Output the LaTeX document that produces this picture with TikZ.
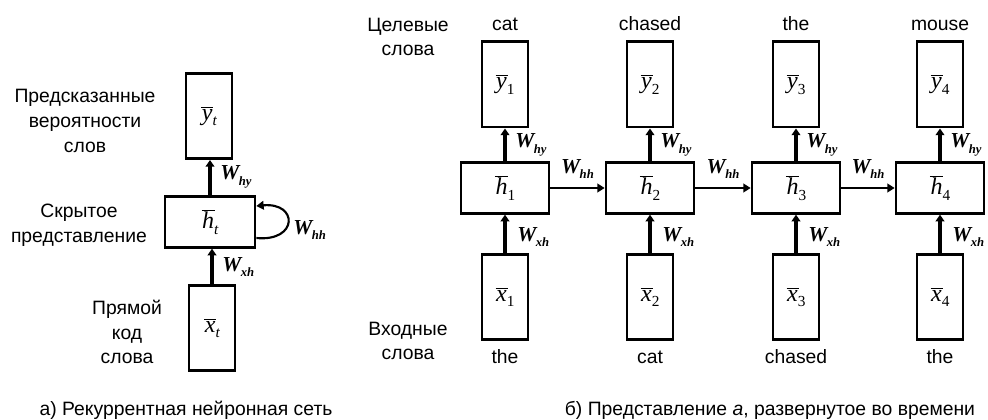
\documentclass[tikz,border=0pt]{standalone}
\usepackage{fontspec}
\setmainfont{Liberation Sans}
\newfontfamily\tms{Liberation Serif}
\usetikzlibrary{arrows.meta,calc}
\newcommand\Wl[1]{{\tms\bfseries\itshape W\kern-0.3pt\raisebox{-0.55ex}{\fontsize{9.5}{9.5}\selectfont #1}}}
\newcommand\bv[2]{{\tms\itshape $\overline{\mbox{\tms\itshape\kern0.5pt #1\kern0.5pt}}$\kern-0.5pt\raisebox{-0.5ex}{\fontsize{11.5}{11.5}\selectfont #2}}}
\begin{document}
\begin{tikzpicture}[x=0.75pt,y=-0.75pt,
  box/.style={draw,line width=2pt,inner sep=0pt},
  tall/.style={box,minimum width=34.5pt,minimum height=64pt},
  wide/.style={box,minimum width=66pt,minimum height=38pt},
  varr/.style={line width=3pt,-{Triangle[width=6.5pt,length=5pt]}},
  harr/.style={line width=1.6pt,-{Triangle[width=6.5pt,length=5.5pt]}},
  lbl/.style={font=\fontsize{14.5}{18.5}\selectfont,align=center,inner sep=0pt},
  wl/.style={font=\fontsize{16}{16}\selectfont,inner sep=0pt},
  bx/.style={font=\fontsize{18}{18}\selectfont}]
\useasboundingbox (0,0) rectangle (988,420);
% ---- part a
\node[tall,bx] (yt) at (209,116) {\bv{y}{t}};
\node[wide,bx,minimum width=67.5pt] (ht) at (210,222) {\bv{h}{t}};
\node[tall,bx] (xt) at (212,328) {\bv{x}{t}};
\draw[varr] (xt.north) -- (xt.north |- ht.south);
\draw[varr] (ht.north) -- (ht.north |- yt.south);
\draw[harr] ([yshift=-12pt]ht.east) .. controls +(42,4) and +(42,-4) .. ([yshift=12pt]ht.east);
\node[wl,anchor=west] (lhy) at (220,177) {\Wl{hy}};
\node[wl,anchor=west] (lhh) at (293,230) {\Wl{hh}};
\node[wl,anchor=west] (lxh) at (222,267) {\Wl{xh}};
\node[lbl] (t1) at (85,121) {Предсказанные\\вероятности\\слов};
\node[lbl] (t2) at (79,225) {Скрытое\\представление};
\node[lbl] (t3) at (127,332) {Прямой\\код\\слова};
\node[lbl] (capa) at (186,410) {а) Рекуррентная нейронная сеть};
% ---- part b
\node[lbl] (tgt) at (408,37) {Целевые\\слова};
\node[lbl] (inp) at (408,341) {Входные\\слова};
\foreach \i/\cx/\wt/\wb in {1/505/cat/the,2/650/chased/cat,3/796/the/chased,4/940/mouse/the}{
  \node[tall,bx] (y\i) at (\cx,84.5) {\bv{y}{\upshape\i}};
  \node[wide,bx] (h\i) at (\cx,188) {\bv{h}{\upshape\i}};
  \node[tall,bx] (x\i) at (\cx,297) {\bv{x}{\upshape\i}};
  \node[lbl,anchor=base] (tw\i) at (\cx,31) {\wt};
  \node[lbl,anchor=base] (bw\i) at (\cx,363) {\wb};
  \draw[varr] (x\i.north) -- (x\i.north |- h\i.south);
  \draw[varr] (h\i.north) -- (h\i.north |- y\i.south);
  \node[wl,anchor=west] (why\i) at (\cx+10,145) {\Wl{hy}};
  \node[wl,anchor=west] (wxh\i) at (\cx+12,237) {\Wl{xh}};
}
\foreach \i/\j in {1/2,2/3,3/4}{
  \draw[harr] (h\i.east) -- node[wl,above=6pt] (whh\i) {\Wl{hh}} (h\j.west);
}
\node[lbl] (capb) at (770,410) {б) Представление \textit{а}, развернутое во времени};
\end{tikzpicture}
\end{document}
